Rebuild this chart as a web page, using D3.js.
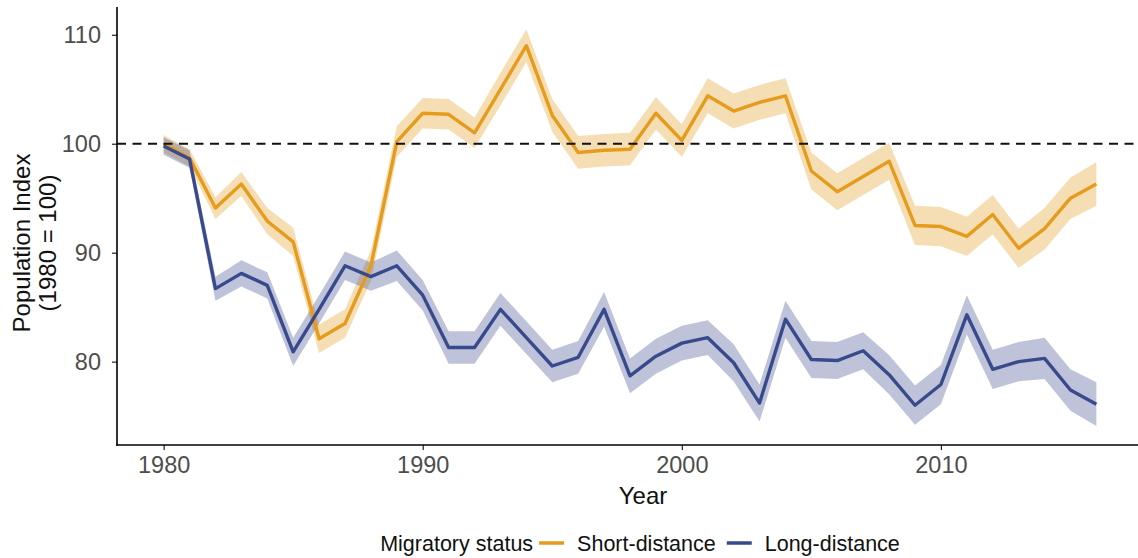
<!DOCTYPE html>
<html>
<head>
<meta charset="utf-8">
<script src="https://cdn.jsdelivr.net/npm/d3@7"></script>
<style>
  html, body { margin: 0; padding: 0; background: #fff; }
  svg { display: block; font-family: "Liberation Sans", Arial, sans-serif; }
</style>
</head>
<body>
<svg id="chart" width="1138" height="558"></svg>
<script>
// Population index by year, relative to 1980 (= 100)
const years = d3.range(1980, 2017);
const shortDistance = [
  100.0, 98.7, 94.1, 96.3, 92.9, 91.0, 82.1, 83.5, 88.8, 100.2,
  102.8, 102.7, 101.0, 105.0, 109.0, 102.6, 99.2, 99.4, 99.5, 102.8,
  100.3, 104.4, 103.0, 103.8, 104.4, 97.5, 95.6, 97.0, 98.4, 92.5,
  92.4, 91.5, 93.5, 90.4, 92.2, 95.0, 96.3
];
const longDistance = [
  99.8, 98.6, 86.7, 88.1, 87.0, 80.9, 84.8, 88.8, 87.8, 88.8,
  86.1, 81.3, 81.3, 84.8, 82.2, 79.6, 80.4, 84.8, 78.7, 80.5,
  81.7, 82.2, 79.9, 76.2, 83.9, 80.2, 80.1, 81.0, 78.8, 76.0,
  77.9, 84.3, 79.3, 80.0, 80.3, 77.4, 76.1
];
// Half-width of the confidence band around each index value
const shortCI = [
  0.8, 0.8, 1.0, 1.1, 1.2, 1.3, 1.3, 1.3, 1.4, 1.4,
  1.4, 1.4, 1.4, 1.5, 1.5, 1.5, 1.5, 1.5, 1.5, 1.5,
  1.5, 1.6, 1.6, 1.6, 1.6, 1.7, 1.7, 1.7, 1.7, 1.8,
  1.8, 1.8, 1.8, 1.8, 1.9, 1.9, 2.0
];
const longCI = [
  0.8, 0.8, 1.1, 1.2, 1.2, 1.3, 1.3, 1.3, 1.3, 1.4,
  1.4, 1.5, 1.5, 1.5, 1.5, 1.5, 1.5, 1.6, 1.6, 1.6,
  1.6, 1.6, 1.7, 1.7, 1.7, 1.7, 1.7, 1.7, 1.8, 1.8,
  1.8, 1.8, 1.8, 1.8, 1.9, 1.9, 2.0
];
const xTicks = [1980, 1990, 2000, 2010];
const yTicks = [80, 90, 100, 110];
const baseline = 100;
const seriesNames = ["Short-distance", "Long-distance"];
const seriesColors = ["#E59B1C", "#394A8C"];
const legendTitle = "Migratory status";

const series = [
  { name: seriesNames[0], color: seriesColors[0], values: shortDistance, ci: shortCI },
  { name: seriesNames[1], color: seriesColors[1], values: longDistance, ci: longCI }
];

const svg = d3.select("#chart");
const panel = { left: 117, right: 1143, top: 7, bottom: 445 };

const x = d3.scaleLinear().domain([1978.2, 2017.8]).range([panel.left, panel.right]);
const y = d3.scaleLinear().domain([72.35, 112.55]).range([panel.bottom, panel.top]);

const plot = svg.append("g");

// confidence bands
const band = d3.area()
  .x(d => x(d.year))
  .y0(d => y(d.value - d.ci))
  .y1(d => y(d.value + d.ci));

series.forEach(s => {
  const pts = years.map((yr, i) => ({ year: yr, value: s.values[i], ci: s.ci[i] }));
  plot.append("path")
    .datum(pts)
    .attr("d", band)
    .attr("fill", s.color)
    .attr("fill-opacity", 0.33);
});

// index lines
const line = d3.line().x(d => x(d.year)).y(d => y(d.value));
series.forEach(s => {
  const pts = years.map((yr, i) => ({ year: yr, value: s.values[i] }));
  plot.append("path")
    .datum(pts)
    .attr("d", line)
    .attr("fill", "none")
    .attr("stroke", s.color)
    .attr("stroke-width", 3.4)
    .attr("stroke-linejoin", "round");
});

// reference level at 100
plot.append("line")
  .attr("x1", panel.left).attr("x2", 1138)
  .attr("y1", y(baseline)).attr("y2", y(baseline))
  .attr("stroke", "#111")
  .attr("stroke-width", 2)
  .attr("stroke-dasharray", "9,6.5");

// axes
const xAxis = d3.axisBottom(x).tickValues(xTicks).tickFormat(d3.format("d")).tickSize(5).tickPadding(6);
const yAxis = d3.axisLeft(y).tickValues(yTicks).tickSize(5).tickPadding(11);

const gx = svg.append("g").attr("transform", `translate(0,${panel.bottom})`).call(xAxis);
const gy = svg.append("g").attr("transform", `translate(${panel.left},0)`).call(yAxis);

[gx, gy].forEach(g => {
  g.select(".domain").remove();
  g.selectAll(".tick line").attr("stroke", "#222").attr("stroke-width", 1.2);
  g.selectAll(".tick text")
    .attr("fill", "#4D4D4D")
    .style("font-size", "23.5px")
    .style("font-family", "'Liberation Sans', Arial, sans-serif");
});

// axis lines (left and bottom only)
svg.append("line")
  .attr("x1", panel.left).attr("x2", panel.left)
  .attr("y1", panel.top).attr("y2", panel.bottom + 0.75)
  .attr("stroke", "#000").attr("stroke-width", 1.6);
svg.append("line")
  .attr("x1", panel.left - 0.75).attr("x2", 1138)
  .attr("y1", panel.bottom).attr("y2", panel.bottom)
  .attr("stroke", "#000").attr("stroke-width", 1.6);

// axis titles
svg.append("text")
  .attr("x", 643).attr("y", 504)
  .attr("text-anchor", "middle")
  .style("font-size", "24px")
  .attr("fill", "#111")
  .text("Year");

const yTitle = svg.append("text")
  .attr("transform", `translate(0,243) rotate(-90)`)
  .attr("text-anchor", "middle")
  .style("font-size", "24px")
  .attr("fill", "#111");
yTitle.append("tspan").attr("x", 0).attr("y", 30).text("Population Index");
yTitle.append("tspan").attr("x", 0).attr("y", 56).text("(1980 = 100)");

// legend
const legend = svg.append("g");
const legendY = 543;
const fontSize = "21.5px";
let cursor = 0;
const title = legend.append("text")
  .attr("x", cursor).attr("y", legendY).attr("dy", "0.35em")
  .style("font-size", fontSize).attr("fill", "#111")
  .text(legendTitle);
cursor += title.node().getComputedTextLength() + 6;
series.forEach((s, i) => {
  legend.append("line")
    .attr("x1", cursor).attr("x2", cursor + 25)
    .attr("y1", legendY).attr("y2", legendY)
    .attr("stroke", s.color).attr("stroke-width", 3.5);
  cursor += 25 + 13;
  const t = legend.append("text")
    .attr("x", cursor).attr("y", legendY).attr("dy", "0.35em")
    .style("font-size", fontSize).attr("fill", "#111")
    .text(s.name);
  cursor += t.node().getComputedTextLength() + (i < series.length - 1 ? 11 : 0);
});
legend.attr("transform", `translate(${640 - cursor / 2},0)`);
</script>
</body>
</html>
